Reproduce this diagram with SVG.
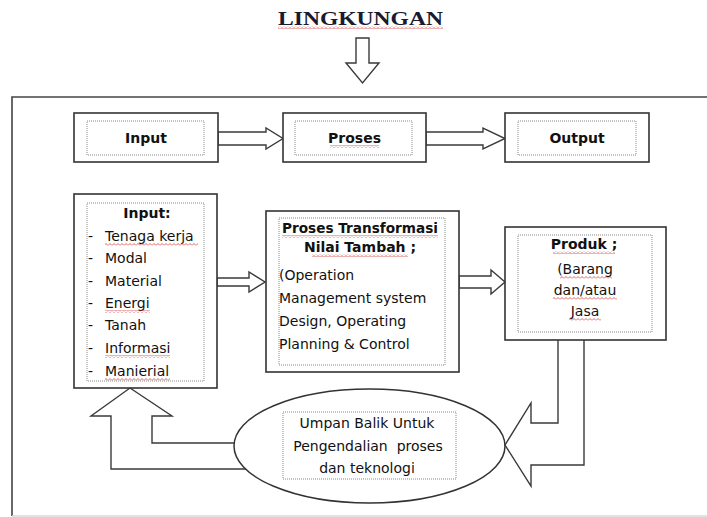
<svg xmlns="http://www.w3.org/2000/svg" width="707" height="517" viewBox="0 0 707 517">
<style>
.box{fill:#fff;stroke:#333;stroke-width:1.6}
.dot{fill:none;stroke:#8a8a8a;stroke-width:1;stroke-dasharray:1 1}
.arr{fill:#fff;stroke:#3a3a3a;stroke-width:1.4;stroke-linejoin:miter}
.t{font-family:"Comic Sans MS","DejaVu Sans",sans-serif;font-size:14px;fill:#111}
.b{font-weight:bold}
.w{fill:url(#wavy)}
</style>
<defs>
<pattern id="wavy" width="4" height="3" patternUnits="userSpaceOnUse">
<path d="M0,2.5 L2,0.5 L4,2.5" fill="none" stroke="#d43c3c" stroke-width="0.8"/>
</pattern>
</defs>
<rect width="707" height="517" fill="#fff"/>
<g id="title">
<text x="360.5" y="25" text-anchor="middle" font-family="Liberation Serif, serif" font-weight="bold" font-size="19" textLength="165" lengthAdjust="spacingAndGlyphs" fill="#1a1a2e">LINGKUNGAN</text>
<rect class="w" x="278" y="26" width="165" height="3"/>
</g>
<g id="frame">
<polyline points="707,97 12,97 12,516" fill="none" stroke="#444" stroke-width="1.6"/>
<line x1="12" y1="516" x2="707" y2="516" stroke="#d8d8d8" stroke-width="1.5"/>
</g>
<g id="connectors">
<polygon class="arr" points="356,38 369,38 369,63 379,63 362.5,83 346,63 356,63"/>
<polygon class="arr" points="218,132 266,132 266,128 283,138.5 266,149 266,145 218,145"/>
<polygon class="arr" points="426,132 483,132 483,128 505,138.5 483,149 483,145 426,145"/>
<polygon class="arr" points="217,278 249,278 249,272 265,282 249,292 249,286 217,286"/>
<polygon class="arr" points="459,276 491,276 491,270 505,282 491,294 491,288 459,288"/>
<polygon class="arr" points="130,388 172,416 152,416 152,443 300,443 300,469 111,469 111,416 91,416"/>
</g>
<g id="top-input">
<rect class="box" x="74" y="113" width="144" height="49"/>
<rect class="dot" x="87" y="121" width="117" height="34"/>
<text class="t b" x="146" y="143" text-anchor="middle">Input</text>
</g>
<g id="top-proses">
<rect class="box" x="283" y="113" width="143" height="49"/>
<rect class="dot" x="295" y="121" width="117" height="34"/>
<text class="t b" x="354.5" y="143" text-anchor="middle">Proses</text>
<rect class="w" x="330" y="145" width="49" height="3"/>
</g>
<g id="top-output">
<rect class="box" x="505" y="113" width="144" height="49"/>
<rect class="dot" x="518" y="121" width="118" height="34"/>
<text class="t b" x="577" y="143" text-anchor="middle">Output</text>
</g>
<g id="input-list">
<rect class="box" x="74" y="194" width="143" height="194"/>
<rect class="dot" x="87" y="203" width="117" height="178"/>
<text class="t b" x="147" y="218" text-anchor="middle">Input:</text>
<g class="t">
<text x="88" y="241">-</text><text x="105" y="241">Tenaga kerja</text>
<text x="88" y="263">-</text><text x="105" y="263">Modal</text>
<text x="88" y="286">-</text><text x="105" y="286">Material</text>
<text x="88" y="308">-</text><text x="105" y="308">Energi</text>
<text x="88" y="330">-</text><text x="105" y="330">Tanah</text>
<text x="88" y="353">-</text><text x="105" y="353">Informasi</text>
<text x="88" y="376">-</text><text x="105" y="376">Manierial</text>
</g>
<rect class="w" x="105" y="243" width="93" height="3"/>
<rect class="w" x="105" y="310" width="45" height="3"/>
<rect class="w" x="105" y="355" width="65" height="3"/>
<rect class="w" x="105" y="378" width="65" height="3"/>
</g>
<g id="proses-transformasi">
<rect class="box" x="266" y="211" width="193" height="161"/>
<rect class="dot" x="279" y="218" width="166" height="147"/>
<text class="t b" x="360" y="233" text-anchor="middle" textLength="156" lengthAdjust="spacingAndGlyphs">Proses Transformasi</text>
<text class="t b" x="360" y="252" text-anchor="middle">Nilai Tambah ;</text>
<rect class="w" x="282" y="235" width="156" height="3"/>
<rect class="w" x="312" y="254" width="96" height="3"/>
<g class="t">
<text x="279" y="280">(Operation</text>
<text x="279" y="303">Management  system</text>
<text x="279" y="326">Design, Operating</text>
<text x="279" y="349">Planning &amp; Control</text>
</g>
</g>
<g id="produk">
<rect class="box" x="505" y="227" width="161" height="113"/>
<rect class="dot" x="518" y="235" width="134" height="97"/>
<text class="t b" x="584" y="249" text-anchor="middle">Produk ;</text>
<g class="t" text-anchor="middle">
<text x="585" y="274">(Barang</text>
<text x="585" y="295">dan/atau</text>
<text x="585" y="316">Jasa</text>
</g>
<rect class="w" x="553" y="251" width="62" height="3"/>
<rect class="w" x="560" y="276" width="52" height="3"/>
<rect class="w" x="553" y="297" width="64" height="3"/>
<rect class="w" x="569" y="318" width="32" height="3"/>
</g>
<g id="umpan-balik">
<ellipse cx="369.5" cy="446" rx="135.5" ry="57" fill="#fff" stroke="#333" stroke-width="1.5"/>
<rect class="dot" x="283" y="412" width="173" height="67"/>
<g class="t" text-anchor="middle">
<text x="367" y="428">Umpan Balik Untuk</text>
<text x="368" y="451" xml:space="preserve">Pengendalian  proses</text>
<text x="367" y="473">dan teknologi</text>
</g>
</g>
<g id="feedback-arrow">
<path d="M558,340 V423 H531 V403 L505,445 L531,486 V465 H584 V340" fill="none" stroke="#3a3a3a" stroke-width="1.4"/>
</g>
</svg>
